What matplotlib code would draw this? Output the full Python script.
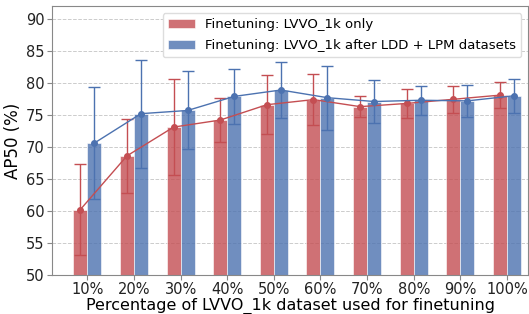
import matplotlib
matplotlib.use("Agg")
import matplotlib.pyplot as plt
import numpy as np

# 数据
percentages = ["10%", "20%", "30%", "40%", "50%", "60%", "70%", "80%", "90%", "100%"]
only_mean = [60.2, 68.6, 73.1, 74.2, 76.6, 77.4, 76.3, 76.8, 77.45, 78.1]
only_std = [7.1, 5.75, 7.55, 3.45, 4.6, 3.95, 1.6, 2.25, 2.1, 2.05]
after_mean = [70.6, 75.2, 75.7, 77.9, 78.9, 77.7, 77.1, 77.3, 77.2, 78.0]
after_std = [8.75, 8.45, 6.1, 4.3, 4.4, 5.0, 3.4, 2.25, 2.5, 2.65]

red = "#c44e52"
blue = "#4c72b0"

fig, ax = plt.subplots(figsize=(5.29, 3.14), dpi=100)
x = np.arange(len(percentages))
w = 0.3

ax.bar(x - w / 2, only_mean, w, color=red, alpha=0.8, edgecolor="white", linewidth=0.5,
       label="Finetuning: LVVO_1k only", zorder=2)
ax.bar(x + w / 2, after_mean, w, color=blue, alpha=0.8, edgecolor="white", linewidth=0.5,
       label="Finetuning: LVVO_1k after LDD + LPM datasets", zorder=2)

ax.errorbar(x - w / 2, only_mean, yerr=only_std, color=red, marker="o", markersize=4,
            linewidth=1, elinewidth=1, capsize=4, zorder=3)
ax.errorbar(x + w / 2, after_mean, yerr=after_std, color=blue, marker="o", markersize=4,
            linewidth=1, elinewidth=1, capsize=4, zorder=3)

ax.set_ylim(50, 92)
ax.set_xlim(-0.75, 9.45)
ax.set_xticks(x)
ax.set_xticklabels(percentages)
ax.tick_params(labelsize=10.5, pad=2, colors="#222222")
ax.tick_params(color="#888888")
ax.set_ylabel("AP50 (%)", fontsize=12, labelpad=3)
ax.set_xlabel("Percentage of LVVO_1k dataset used for finetuning", fontsize=11.5, labelpad=0)
ax.yaxis.grid(True, linestyle="--", color="#cccccc", linewidth=0.7, zorder=0)
ax.set_axisbelow(True)
for s in ax.spines.values():
    s.set_color("#888888")
ax.legend(loc="upper right", fontsize=9.5, framealpha=1, edgecolor="#dddddd",
          borderaxespad=0.5, handlelength=2, labelspacing=0.6)

fig.subplots_adjust(left=0.099, right=0.998, top=0.98, bottom=0.125)
fig.savefig("out.png", dpi=100)
